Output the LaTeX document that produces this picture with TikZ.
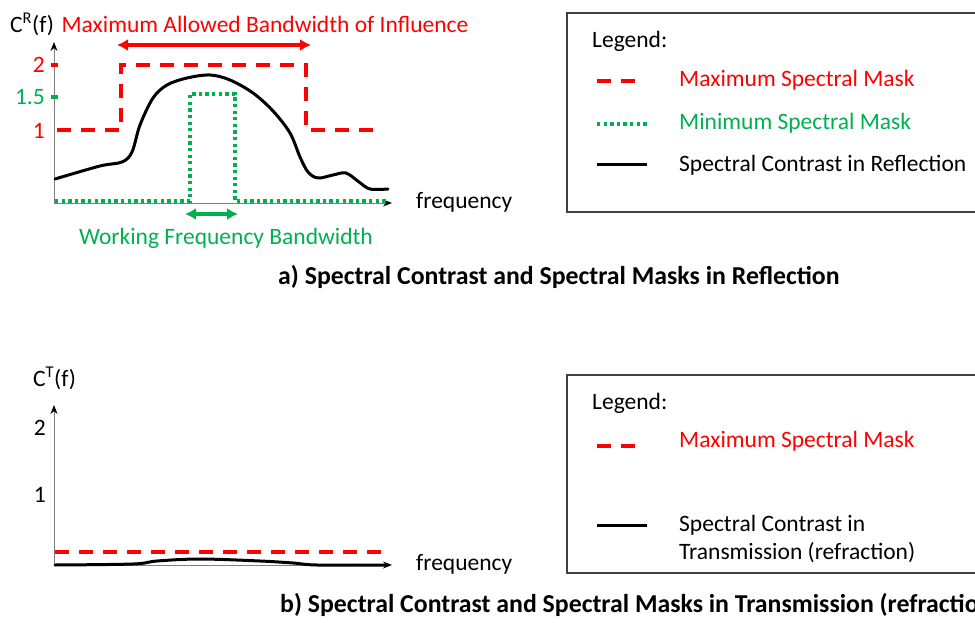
\documentclass[tikz,border=0pt]{standalone}
\usepackage{fontspec}
\setmainfont{Carlito}
\usetikzlibrary{arrows.meta}
\definecolor{maskred}{RGB}{255,0,0}
\definecolor{maskgreen}{RGB}{0,176,80}
\tikzset{
  txt/.style={font=\fontsize{23.5}{27.5}\selectfont, inner sep=0pt},
  captxt/.style={font=\bfseries\fontsize{25.8}{30}\selectfont, inner sep=0pt},
  axisline/.style={draw=gray, line width=1pt, -{Stealth[length=9pt,width=7pt,black]}},
  maxmask/.style={draw=maskred, line width=3.8pt, dash pattern=on 14pt off 10pt},
  minmask/.style={draw=maskgreen, line width=3.6pt, dash pattern=on 3.3pt off 3.3pt},
  contrast/.style={draw=black, line width=3pt, line cap=round, line join=round},
  bandarrow/.style={line width=3.3pt, {Latex[length=11pt,width=12pt]}-{Latex[length=11pt,width=12pt]}},
  legbox/.style={draw=black!75, line width=1.3pt},
  tick/.style={line width=3.6pt}
}
\begin{document}
\begin{tikzpicture}[x=1pt,y=-1pt]
\useasboundingbox (0,0) rectangle (975,623);
\clip (0,0) rectangle (975,623);

% ---------------- a) reflection ----------------
\coordinate (aO) at (54,203);
\coordinate (aY) at (54,42);
\coordinate (aX) at (392,203);
\draw[axisline] (aO) -- (aY);
\draw[axisline] (aO) -- (aX);

% tick marks and labels
\draw[tick, maskred] (51,65) -- (58,65);
\draw[tick, maskgreen] (51,97) -- (58,97);
\node[txt, text=maskred, anchor=east] (a2) at (45,65) {2};
\node[txt, text=maskgreen, anchor=east] (a15) at (45,97) {1.5};
\node[txt, text=maskred, anchor=east] (a1) at (45,131) {1};
\node[txt, anchor=west] (aCR) at (10,24) {C\textsuperscript{R}(f)};
\node[txt, anchor=west] (afreq) at (416,202) {frequency};

% minimum spectral mask
\draw[minmask] (55,201) -- (190,201) -- (190,94) -- (235,94) -- (235,201) -- (386,201);

% maximum spectral mask
\draw[maxmask] (57,130) -- (121,130) -- (121,65) -- (306,65) -- (306,130) -- (373,130);

% spectral contrast in reflection
\draw[contrast] plot[smooth, tension=0.55] coordinates {
  (55,179) (100,166) (122,162) (132,152) (140,125) (153,98) (167,85)
  (187,78) (210,75) (230,80) (253,93) (273,111) (290,133) (300,157)
  (308,172) (318,178) (333,175) (346,173) (359,182) (370,189) (388,189)};

% bandwidth arrows
\coordinate (bwL) at (117,45);
\coordinate (bwR) at (311,45);
\draw[bandarrow, maskred] (bwL) -- (bwR);
\node[txt, text=maskred] (bwlabel) at (265,24) {Maximum Allowed Bandwidth of Influence};
\coordinate (wfL) at (185,214);
\coordinate (wfR) at (238,214);
\draw[bandarrow, maskgreen] (wfL) -- (wfR);
\node[txt, text=maskgreen] (wflabel) at (226,238) {Working Frequency Bandwidth};

% legend
\draw[legbox] (567,13) rectangle (1010,212);
\node[txt, anchor=west] (aleg) at (592,41) {Legend:};
\draw[maxmask] (597,81) -- (638,81);
\node[txt, text=maskred, anchor=west] (alegmax) at (679,80) {Maximum Spectral Mask};
\draw[minmask] (597,124) -- (647,124);
\node[txt, text=maskgreen, anchor=west] (alegmin) at (679,123) {Minimum Spectral Mask};
\draw[contrast, line cap=butt] (597,165) -- (647,165);
\node[txt, anchor=west] (alegcon) at (679,165) {Spectral Contrast in Reflection};

\node[captxt, anchor=west] (capa) at (278,277) {a) Spectral Contrast and Spectral Masks in Reflection};

% ---------------- b) transmission ----------------
\coordinate (bO) at (54,565);
\coordinate (bY) at (54,405);
\coordinate (bX) at (392,565);
\draw[axisline] (bO) -- (bY);
\draw[axisline] (bO) -- (bX);
\node[txt, anchor=east] (b2) at (46,428) {2};
\node[txt, anchor=east] (b1) at (46,495) {1};
\node[txt, anchor=west] (bCT) at (33,378) {C\textsuperscript{T}(f)};
\node[txt, anchor=west] (bfreq) at (416,564) {frequency};

\draw[maxmask] (55,552) -- (381,552);
\draw[contrast] plot[smooth, tension=0.55] coordinates {
  (55,565) (133,564) (157,561) (200,559) (260,561) (293,563) (317,565) (386,565)};

\draw[legbox] (567,375) rectangle (1010,573);
\node[txt, anchor=west] (bleg) at (592,403) {Legend:};
\draw[maxmask] (597,446) -- (638,446);
\node[txt, text=maskred, anchor=west] (blegmax) at (679,441) {Maximum Spectral Mask};
\draw[contrast, line cap=butt] (597,525) -- (647,525);
\node[txt, anchor=west, align=left] (blegcon) at (679,539) {Spectral Contrast in\\Transmission (refraction)};

\node[captxt, anchor=west] (capb) at (280,605) {b) Spectral Contrast and Spectral Masks in Transmission (refraction)};
\end{tikzpicture}
\end{document}
